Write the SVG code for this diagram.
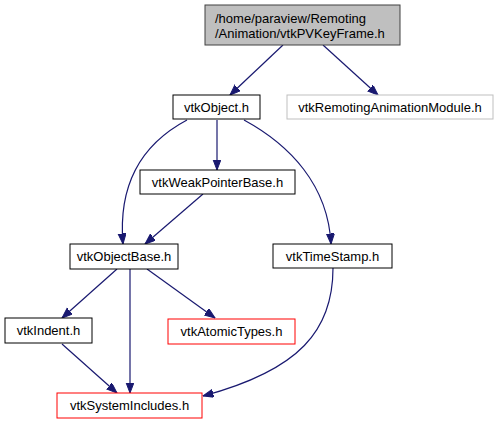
<svg xmlns="http://www.w3.org/2000/svg" width="499" height="425" viewBox="0 0 499 425">
<style>
.n rect{fill:#fff;stroke:#000;stroke-width:1}
.n text{font-family:"Liberation Sans",Arial,sans-serif;font-size:13px;fill:#000;text-anchor:middle}
.e path{fill:none;stroke:#191970;stroke-width:1.2}
</style>
<defs>
<marker id="ah" markerUnits="userSpaceOnUse" markerWidth="11" markerHeight="9" refX="10.5" refY="4" orient="auto">
<path d="M0,0 L10.5,4 L0,8 z" fill="#191970" stroke="#191970" stroke-width="1"/>
</marker>
</defs>
<rect width="499" height="425" fill="#fff"/>
<g class="e" id="connectors">
<path d="M283,45 L230,95" marker-end="url(#ah)"/>
<path d="M323,45 L378,95" marker-end="url(#ah)"/>
<path d="M217,120 L217,170" marker-end="url(#ah)"/>
<path d="M187,120 C140,145 118,185 123,244" marker-end="url(#ah)"/>
<path d="M244,120 C290,145 328,185 331,244" marker-end="url(#ah)"/>
<path d="M203,194 L145,244" marker-end="url(#ah)"/>
<path d="M117,269 L62,318" marker-end="url(#ah)"/>
<path d="M130,269 L130,393" marker-end="url(#ah)"/>
<path d="M147,269 L215,318" marker-end="url(#ah)"/>
<path d="M62,344 L117,393" marker-end="url(#ah)"/>
<path d="M333,268 C333,330 300,370 203,396" marker-end="url(#ah)"/>
</g>
<g class="n" id="node_top">
<rect x="205" y="5" width="195" height="40" style="fill:#bfbfbf;stroke:#404040"/>
<text x="215" y="23" style="text-anchor:start">/home/paraview/Remoting</text>
<text x="215" y="38" style="text-anchor:start">/Animation/vtkPVKeyFrame.h</text>
</g>
<g class="n" id="node_vtkObject">
<rect x="173" y="95" width="87" height="24"/>
<text x="216.5" y="111.5">vtkObject.h</text>
</g>
<g class="n" id="node_module">
<rect x="287" y="95" width="206" height="24" style="stroke:#bfbfbf"/>
<text x="390" y="111.5">vtkRemotingAnimationModule.h</text>
</g>
<g class="n" id="node_weak">
<rect x="140" y="170" width="155" height="24"/>
<text x="217.5" y="186.5">vtkWeakPointerBase.h</text>
</g>
<g class="n" id="node_objbase">
<rect x="70" y="244" width="108" height="25"/>
<text x="124" y="261">vtkObjectBase.h</text>
</g>
<g class="n" id="node_timestamp">
<rect x="273" y="244" width="119" height="24"/>
<text x="332.5" y="261">vtkTimeStamp.h</text>
</g>
<g class="n" id="node_indent">
<rect x="5" y="318" width="87" height="25"/>
<text x="48.5" y="335">vtkIndent.h</text>
</g>
<g class="n" id="node_atomic">
<rect x="168" y="319" width="127" height="25" style="stroke:#ff0000"/>
<text x="231.5" y="336">vtkAtomicTypes.h</text>
</g>
<g class="n" id="node_sysinc">
<rect x="57" y="393" width="145" height="25" style="stroke:#ff0000"/>
<text x="129.5" y="410">vtkSystemIncludes.h</text>
</g>
</svg>
